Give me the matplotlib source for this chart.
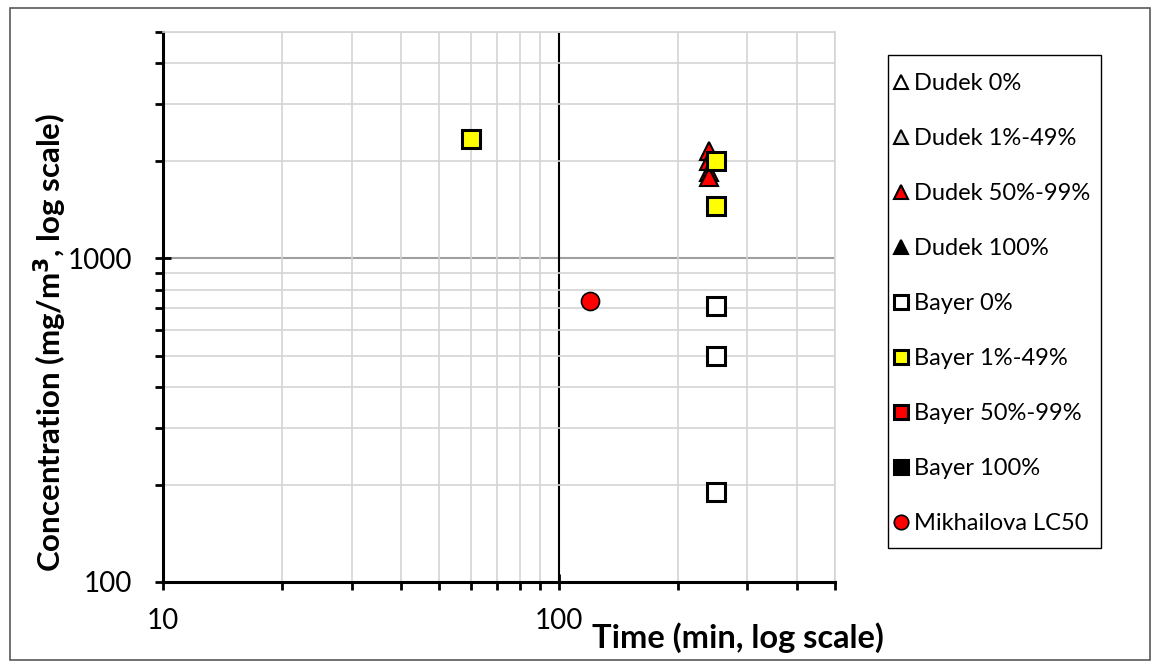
import matplotlib
matplotlib.use('Agg')
import matplotlib.pyplot as plt
from matplotlib.patches import Rectangle
from matplotlib.ticker import LogLocator, NullFormatter, FixedLocator, FixedFormatter
import numpy as np

plt.rcParams['font.family'] = ['Lato', 'DejaVu Sans']

# Data (time in min, concentration in mg/m3)
dudek_50_t = [240, 240, 240, 240]
dudek_50_c = [2150, 2000, 1850, 1780]

bayer_0_t = [250, 250, 250]
bayer_0_c = [710, 500, 190]

bayer_1_t = [60, 250, 250]
bayer_1_c = [2340, 2000, 1450]

mikhailova_t = [120]
mikhailova_c = [740]

fig = plt.figure(figsize=(11.6, 6.68), dpi=100)
ax = fig.add_axes([163/1160, 1 - 582/668, (835 - 163)/1160, (582 - 32)/668])

ax.set_xscale('log')
ax.set_yscale('log')
ax.set_xlim(10, 500)
ax.set_ylim(100, 5000)

# grid
ax.xaxis.set_minor_locator(LogLocator(base=10, subs=np.arange(2, 10)))
ax.yaxis.set_minor_locator(LogLocator(base=10, subs=np.arange(2, 10)))
ax.grid(True, which='minor', color='#d4d4d4', linewidth=1.2, zorder=0)
ax.axhline(1000, color='#a0a0a0', linewidth=1.5, zorder=1)
ax.axvline(100, color='black', linewidth=1.5, zorder=1)

ax.xaxis.set_minor_formatter(NullFormatter())
ax.yaxis.set_minor_formatter(NullFormatter())
ax.xaxis.set_major_locator(FixedLocator([10, 100]))
ax.xaxis.set_major_formatter(FixedFormatter(['10', '100']))
ax.yaxis.set_major_locator(FixedLocator([100, 1000]))
ax.yaxis.set_major_formatter(FixedFormatter(['100', '1000']))

ax.tick_params(which='major', direction='inout', length=12, width=2, labelsize=20, pad=13)
ax.tick_params(axis='y', which='major', pad=16)
ax.tick_params(which='minor', direction='out', length=6, width=2)

for side in ['left', 'bottom']:
    ax.spines[side].set_linewidth(2.2)
for side in ['top', 'right']:
    ax.spines[side].set_color('#d4d4d4')
    ax.spines[side].set_linewidth(1.2)

ms = 13
ax.plot([], [], ls='none', marker='^', ms=ms, mfc='white', mec='black', mew=1.5, label='Dudek 0%')
ax.plot([], [], ls='none', marker='^', ms=ms, mfc='#d9d9d9', mec='black', mew=1.5, label='Dudek 1%-49%')
ax.plot(dudek_50_t, dudek_50_c, ls='none', marker='^', ms=ms, mfc='#ff0000', mec='black', mew=1.5,
        label='Dudek 50%-99%', zorder=3)
ax.plot([], [], ls='none', marker='^', ms=ms, mfc='black', mec='black', mew=1.5, label='Dudek 100%')
ax.plot(bayer_0_t, bayer_0_c, ls='none', marker='s', ms=ms, mfc='white', mec='black', mew=2.2,
        label='Bayer 0%', zorder=4)
ax.plot(bayer_1_t, bayer_1_c, ls='none', marker='s', ms=ms, mfc='#ffff00', mec='black', mew=2.2,
        label='Bayer 1%-49%', zorder=4)
ax.plot([], [], ls='none', marker='s', ms=ms, mfc='#ff0000', mec='black', mew=2.2, label='Bayer 50%-99%')
ax.plot([], [], ls='none', marker='s', ms=ms, mfc='black', mec='black', mew=2.2, label='Bayer 100%')
ax.plot(mikhailova_t, mikhailova_c, ls='none', marker='o', ms=ms, mfc='#ff0000', mec='black', mew=1.2,
        label='Mikhailova LC50', zorder=4)

# legend box drawn separately so its size matches the original
fig.patches.append(Rectangle((888/1160, 1 - 548/668), 213/1160, 493/668, transform=fig.transFigure,
                             facecolor='white', edgecolor='black', linewidth=1.0))
leg = fig.legend(loc='upper left', bbox_to_anchor=(892/1160, 1 - 73/668), fontsize=17,
                 frameon=False, labelspacing=1.44, handlelength=0.8, handletextpad=0.15,
                 borderpad=0, borderaxespad=0, markerscale=0.8)

fig.text(50/1160, 1 - 342/668, 'Concentration (mg/m$^\\mathbf{3}$, log scale)', fontsize=22.5,
         fontweight='bold', rotation=90, ha='center', va='center')
fig.text(738/1160, 1 - 638/668, 'Time (min, log scale)', fontsize=23.5, fontweight='bold',
         ha='center', va='center')

fig.patches.append(Rectangle((10/1160, 8/668), 1140/1160, 652/668, transform=fig.transFigure,
                             fill=False, edgecolor='#595959', linewidth=1.2))

fig.savefig('out.png', dpi=100)
